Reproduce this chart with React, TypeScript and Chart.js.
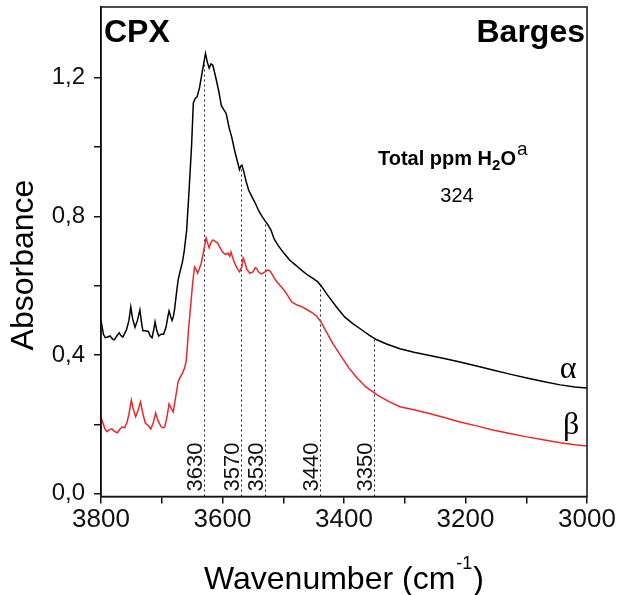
import React, { useEffect, useRef } from 'react';
import { Chart, registerables } from 'chart.js';

Chart.register(...registerables);

// ---- data ----
const ALPHA_WN = [3800, 3796, 3793, 3789, 3785, 3781, 3778, 3774, 3770, 3767, 3764, 3760, 3758, 3754, 3751, 3748, 3744, 3740, 3736, 3733, 3731, 3727, 3722, 3719, 3716, 3713, 3711, 3708, 3705, 3701, 3697, 3693, 3690, 3688, 3685, 3683, 3681, 3679, 3676, 3673, 3670, 3666, 3663, 3659, 3655, 3651, 3648, 3645, 3642, 3638, 3635, 3631, 3628, 3625, 3622, 3619, 3616, 3613, 3611, 3606, 3602, 3598, 3594, 3589, 3585, 3580, 3575, 3572, 3570, 3568, 3565, 3561, 3557, 3551, 3546, 3540, 3535, 3530, 3525, 3520, 3515, 3508, 3498, 3490, 3482, 3476, 3470, 3460, 3450, 3443, 3437, 3427, 3413, 3399, 3385, 3371, 3358, 3346, 3330, 3308, 3285, 3263, 3235, 3209, 3180, 3155, 3127, 3099, 3070, 3044, 3020, 3000];
const ALPHA_ABS = [0.50, 0.46, 0.45, 0.452, 0.455, 0.446, 0.444, 0.455, 0.464, 0.456, 0.452, 0.466, 0.473, 0.50, 0.539, 0.505, 0.48, 0.50, 0.53, 0.49, 0.47, 0.47, 0.468, 0.455, 0.45, 0.475, 0.496, 0.47, 0.455, 0.46, 0.46, 0.48, 0.51, 0.527, 0.51, 0.50, 0.51, 0.53, 0.575, 0.617, 0.64, 0.668, 0.70, 0.76, 0.876, 1.00, 1.127, 1.14, 1.144, 1.17, 1.20, 1.24, 1.27, 1.245, 1.228, 1.24, 1.236, 1.215, 1.20, 1.16, 1.12, 1.108, 1.097, 1.055, 1.03, 0.99, 0.955, 0.935, 0.945, 0.948, 0.93, 0.90, 0.876, 0.855, 0.838, 0.815, 0.80, 0.787, 0.775, 0.76, 0.735, 0.715, 0.692, 0.675, 0.663, 0.654, 0.645, 0.631, 0.62, 0.611, 0.598, 0.573, 0.54, 0.51, 0.49, 0.473, 0.457, 0.444, 0.432, 0.418, 0.408, 0.40, 0.39, 0.38, 0.368, 0.357, 0.345, 0.334, 0.323, 0.314, 0.308, 0.305];

const BETA_WN = [3800, 3797, 3793, 3790, 3786, 3782, 3778, 3773, 3769, 3765, 3761, 3757, 3754, 3750, 3747, 3743, 3739, 3735, 3731, 3727, 3722, 3718, 3714, 3710, 3706, 3701, 3698, 3695, 3691, 3688, 3684, 3681, 3677, 3673, 3670, 3666, 3663, 3660, 3658, 3656, 3654, 3652, 3649, 3646, 3643, 3641, 3638, 3635, 3631, 3627, 3624, 3622, 3619, 3616, 3612, 3608, 3604, 3600, 3595, 3591, 3588, 3586, 3583, 3580, 3576, 3572, 3568, 3566, 3564, 3560, 3555, 3550, 3546, 3544, 3540, 3536, 3530, 3526, 3522, 3518, 3513, 3506, 3499, 3492, 3486, 3478, 3469, 3460, 3452, 3445, 3438, 3430, 3419, 3405, 3392, 3378, 3364, 3343, 3325, 3308, 3285, 3263, 3235, 3209, 3180, 3155, 3127, 3099, 3070, 3044, 3020, 3000];
const BETA_ABS = [0.22, 0.205, 0.185, 0.179, 0.185, 0.187, 0.18, 0.176, 0.186, 0.193, 0.19, 0.207, 0.23, 0.27, 0.245, 0.222, 0.24, 0.265, 0.23, 0.204, 0.196, 0.187, 0.205, 0.233, 0.21, 0.193, 0.19, 0.193, 0.225, 0.259, 0.245, 0.236, 0.28, 0.323, 0.335, 0.348, 0.36, 0.38, 0.42, 0.473, 0.51, 0.55, 0.61, 0.654, 0.645, 0.636, 0.65, 0.665, 0.70, 0.738, 0.72, 0.709, 0.725, 0.732, 0.728, 0.723, 0.71, 0.697, 0.69, 0.694, 0.685, 0.697, 0.68, 0.665, 0.65, 0.64, 0.655, 0.68, 0.672, 0.648, 0.636, 0.64, 0.652, 0.65, 0.638, 0.634, 0.64, 0.645, 0.643, 0.632, 0.617, 0.602, 0.588, 0.57, 0.553, 0.545, 0.539, 0.53, 0.522, 0.512, 0.496, 0.47, 0.435, 0.397, 0.363, 0.333, 0.308, 0.282, 0.265, 0.251, 0.242, 0.233, 0.22, 0.207, 0.195, 0.184, 0.174, 0.164, 0.155, 0.147, 0.141, 0.138];

const PEAK_WN = [3630, 3570, 3530, 3440, 3350];
const PEAK_LABELS = ['3630', '3570', '3530', '3440', '3350'];

const X_TICKS = [3800, 3700, 3600, 3500, 3400, 3300, 3200, 3100, 3000];
const X_TICK_LABELS = ['3800', '', '3600', '', '3400', '', '3200', '', '3000'];
const Y_TICKS = [0, 0.2, 0.4, 0.6, 0.8, 1.0, 1.2];
const Y_TICK_LABELS = ['0,0', '', '0,4', '', '0,8', '', '1,2'];

const SERIES_LABELS = ['α', 'β'];
const PANEL_LEFT = 'CPX';
const PANEL_RIGHT = 'Barges';
const TOTAL_LABEL = 'Total ppm H';
const TOTAL_VALUE = '324';
const X_TITLE = 'Wavenumber (cm';
const Y_TITLE = 'Absorbance';

const SANS = '"Liberation Sans", Arial, sans-serif';
const SERIF = '"Liberation Serif", "Times New Roman", serif';

function interpAlpha(w: number): number {
  for (let i = 0; i < ALPHA_WN.length - 1; i++) {
    const a = ALPHA_WN[i], b = ALPHA_WN[i + 1];
    if (w <= a && w >= b) {
      const t = (a - w) / (a - b);
      return ALPHA_ABS[i] + t * (ALPHA_ABS[i + 1] - ALPHA_ABS[i]);
    }
  }
  return 0;
}

const overlayPlugin = {
  id: 'overlay',
  beforeDatasetsDraw(chart: any) {
    const { ctx, scales, chartArea } = chart;
    const x = scales.x, y = scales.y;
    ctx.save();
    ctx.setLineDash([2, 3]);
    ctx.lineWidth = 1;
    ctx.strokeStyle = '#222';
    PEAK_WN.forEach((w) => {
      const px = Math.round(x.getPixelForValue(w)) + 0.5;
      const top = y.getPixelForValue(interpAlpha(w));
      ctx.beginPath();
      ctx.moveTo(px, chartArea.bottom);
      ctx.lineTo(px, top);
      ctx.stroke();
    });
    ctx.restore();
  },
  afterDraw(chart: any) {
    const { ctx, scales, chartArea } = chart;
    const x = scales.x, y = scales.y;
    ctx.save();
    // frame
    ctx.strokeStyle = '#111';
    ctx.lineWidth = 1.5;
    ctx.strokeRect(chartArea.left, chartArea.top, chartArea.right - chartArea.left, chartArea.bottom - chartArea.top);

    // peak labels (rotated)
    ctx.fillStyle = '#111';
    ctx.font = `22px ${SANS}`;
    ctx.textAlign = 'left';
    ctx.textBaseline = 'alphabetic';
    PEAK_WN.forEach((w, i) => {
      const px = x.getPixelForValue(w);
      ctx.save();
      ctx.translate(px - 2, chartArea.bottom - 5);
      ctx.rotate(-Math.PI / 2);
      ctx.fillText(PEAK_LABELS[i], 0, 0);
      ctx.restore();
    });

    // panel titles
    ctx.fillStyle = '#000';
    ctx.font = `bold 32px ${SANS}`;
    ctx.textAlign = 'left';
    ctx.fillText(PANEL_LEFT, chartArea.left + 3, 42);
    ctx.textAlign = 'right';
    ctx.fillText(PANEL_RIGHT, chartArea.right - 2, 42);

    // total ppm H2O^a
    ctx.textAlign = 'left';
    let tx = 378;
    ctx.font = `bold 20px ${SANS}`;
    ctx.fillText(TOTAL_LABEL, tx, 165);
    tx += ctx.measureText(TOTAL_LABEL).width;
    ctx.font = `bold 15px ${SANS}`;
    ctx.fillText('2', tx, 170);
    tx += ctx.measureText('2').width;
    ctx.font = `bold 20px ${SANS}`;
    ctx.fillText('O', tx, 165);
    tx += ctx.measureText('O').width + 1;
    ctx.font = `19px ${SANS}`;
    ctx.fillText('a', tx, 155);
    ctx.font = `20px ${SANS}`;
    ctx.textAlign = 'center';
    ctx.fillText(TOTAL_VALUE, 457, 202);

    // series labels
    ctx.font = `32px ${SERIF}`;
    ctx.textAlign = 'center';
    ctx.fillText(SERIES_LABELS[0], x.getPixelForValue(3031), y.getPixelForValue(0.334));
    ctx.fillText(SERIES_LABELS[1], x.getPixelForValue(3026), y.getPixelForValue(0.172));

    // axis titles
    ctx.font = `32px ${SANS}`;
    ctx.textAlign = 'center';
    ctx.textBaseline = 'middle';
    ctx.save();
    ctx.translate(24, 265);
    ctx.rotate(-Math.PI / 2);
    ctx.fillText(Y_TITLE, 0, 0);
    ctx.restore();

    ctx.textBaseline = 'alphabetic';
    ctx.textAlign = 'left';
    ctx.font = `32px ${SANS}`;
    const w1 = ctx.measureText(X_TITLE).width;
    ctx.font = `18px ${SANS}`;
    const w2 = ctx.measureText('-1').width;
    ctx.font = `32px ${SANS}`;
    const w3 = ctx.measureText(')').width;
    const total = w1 + w2 + w3 + 2;
    let sx = (chartArea.left + chartArea.right) / 2 - total / 2;
    ctx.fillText(X_TITLE, sx, 589);
    sx += w1 + 1;
    ctx.font = `18px ${SANS}`;
    ctx.fillText('-1', sx, 569);
    sx += w2 + 1;
    ctx.font = `32px ${SANS}`;
    ctx.fillText(')', sx, 589);
    ctx.restore();
  },
};

export default function App() {
  const ref = useRef<HTMLCanvasElement | null>(null);
  useEffect(() => {
    if (!ref.current) return;
    const chart = new Chart(ref.current, {
      type: 'line',
      data: {
        datasets: [
          {
            data: ALPHA_WN.map((w, i) => ({ x: w, y: ALPHA_ABS[i] })),
            borderColor: '#000',
            borderWidth: 1.5,
            pointRadius: 0,
            tension: 0,
          },
          {
            data: BETA_WN.map((w, i) => ({ x: w, y: BETA_ABS[i] })),
            borderColor: '#e8282b',
            borderWidth: 1.5,
            pointRadius: 0,
            tension: 0,
          },
        ],
      },
      options: {
        responsive: false,
        animation: false,
        devicePixelRatio: 1,
        layout: { padding: { left: 0, right: 32, top: 7, bottom: 0 } },
        plugins: { legend: { display: false }, tooltip: { enabled: false } },
        scales: {
          x: {
            type: 'linear',
            reverse: true,
            min: 3000,
            max: 3800,
            afterBuildTicks: (s: any) => {
              s.ticks = X_TICKS.map((v) => ({ value: v }));
            },
            afterFit: (s: any) => {
              s.height = 98.5;
              s.paddingLeft = 0;
              s.paddingRight = 0;
            },
            ticks: {
              autoSkip: false,
              maxRotation: 0,
              padding: 1,
              color: '#111',
              font: { family: SANS, size: 26 },
              callback: (_v: any, i: number) => X_TICK_LABELS[i],
            },
            grid: { drawOnChartArea: false, drawTicks: true, tickLength: 7, color: '#111', lineWidth: 1.5 },
            border: { display: true, color: '#111', width: 1.5 },
          },
          y: {
            type: 'linear',
            min: -0.008,
            max: 1.404,
            afterBuildTicks: (s: any) => {
              s.ticks = Y_TICKS.map((v) => ({ value: v }));
            },
            afterFit: (s: any) => {
              s.width = 101;
              s.paddingTop = 0;
              s.paddingBottom = 0;
            },
            ticks: {
              autoSkip: false,
              padding: 9,
              color: '#111',
              font: { family: SANS, size: 24 },
              callback: (_v: any, i: number) => Y_TICK_LABELS[i],
            },
            grid: { drawOnChartArea: false, drawTicks: true, tickLength: 7, color: '#111', lineWidth: 1.5 },
            border: { display: true, color: '#111', width: 1.5 },
          },
        },
      },
      plugins: [overlayPlugin],
    });
    return () => chart.destroy();
  }, []);
  return (
    <div style={{ position: 'fixed', left: 0, top: 0, width: 619, height: 595, background: '#fff' }}>
      <canvas ref={ref} width={619} height={595} style={{ display: 'block' }} />
    </div>
  );
}
